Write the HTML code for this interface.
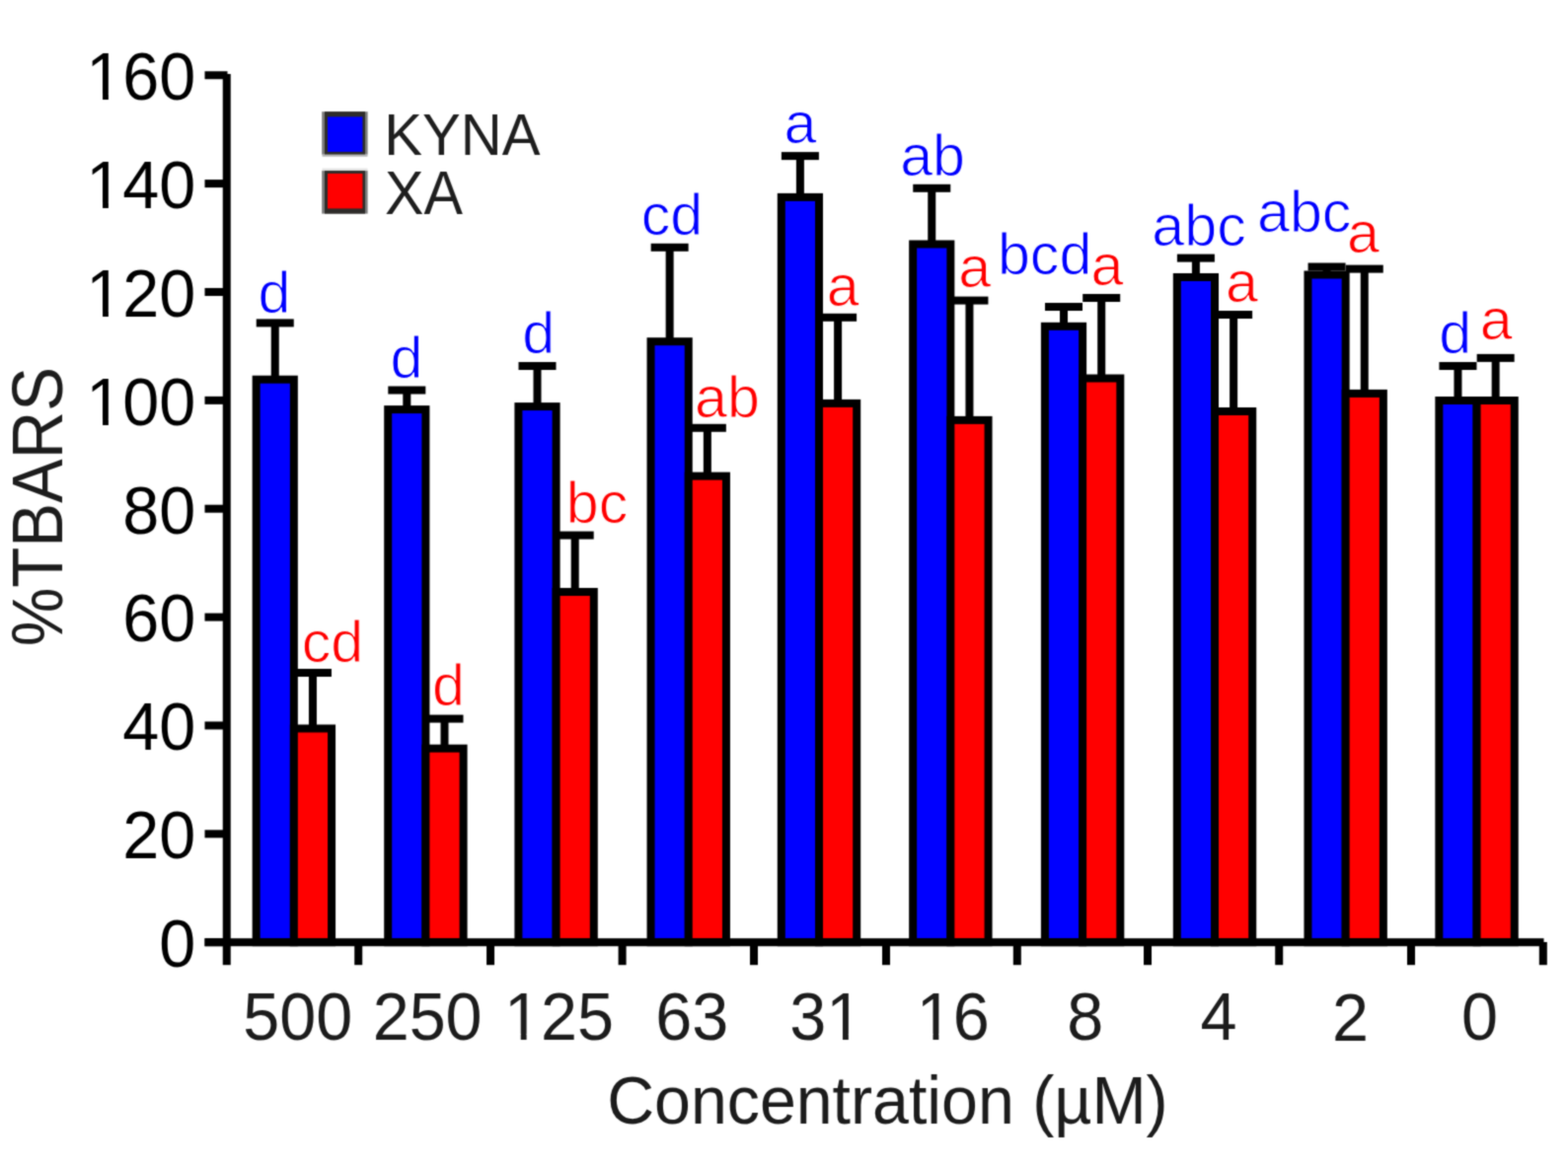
<!DOCTYPE html>
<html><head><meta charset="utf-8"><title>%TBARS vs concentration</title>
<style>
html,body{margin:0;padding:0;background:#fff;}
svg{display:block;}
text{font-family:"Liberation Sans",Arial,Helvetica,sans-serif;}
</style></head><body>
<svg width="1589" height="1183" viewBox="0 0 1589 1183">
<defs><filter id="soft" x="0" y="0" width="100%" height="100%" color-interpolation-filters="sRGB"><feConvolveMatrix order="3" kernelMatrix="0.04 0.11 0.04 0.11 0.40 0.11 0.04 0.11 0.04" edgeMode="duplicate"/></filter></defs>
<g filter="url(#soft)">
<rect width="1589" height="1183" fill="#fff"/>
<g id="bars" stroke="#000" stroke-width="8" stroke-linejoin="miter">
<rect x="259.65" y="384.70" width="38.20" height="570.50" fill="#0000ff"/><rect x="297.85" y="738.50" width="38.20" height="216.70" fill="#ff0000"/>
<rect x="393.20" y="415.10" width="38.20" height="540.10" fill="#0000ff"/><rect x="431.40" y="758.70" width="38.20" height="196.50" fill="#ff0000"/>
<rect x="525.40" y="412.10" width="38.20" height="543.10" fill="#0000ff"/><rect x="563.60" y="600.00" width="38.20" height="355.20" fill="#ff0000"/>
<rect x="659.55" y="346.20" width="38.20" height="609.00" fill="#0000ff"/><rect x="697.75" y="482.60" width="38.20" height="472.60" fill="#ff0000"/>
<rect x="791.80" y="199.90" width="38.20" height="755.30" fill="#0000ff"/><rect x="830.00" y="408.90" width="38.20" height="546.30" fill="#ff0000"/>
<rect x="925.15" y="247.50" width="38.20" height="707.70" fill="#0000ff"/><rect x="963.35" y="425.90" width="38.20" height="529.30" fill="#ff0000"/>
<rect x="1058.90" y="330.80" width="38.20" height="624.40" fill="#0000ff"/><rect x="1097.10" y="383.50" width="38.20" height="571.70" fill="#ff0000"/>
<rect x="1192.80" y="281.00" width="38.20" height="674.20" fill="#0000ff"/><rect x="1231.00" y="417.00" width="38.20" height="538.20" fill="#ff0000"/>
<rect x="1325.45" y="278.50" width="38.20" height="676.70" fill="#0000ff"/><rect x="1363.65" y="398.90" width="38.20" height="556.30" fill="#ff0000"/>
<rect x="1458.35" y="406.00" width="38.20" height="549.20" fill="#0000ff"/><rect x="1496.55" y="406.00" width="38.20" height="549.20" fill="#ff0000"/>
</g>
<g id="err" fill="#000">
<rect x="274.75" y="327.40" width="8" height="55.30"/><rect x="259.75" y="323.40" width="38" height="8"/><rect x="312.95" y="682.00" width="8" height="54.50"/><rect x="297.95" y="678.00" width="38" height="8"/>
<rect x="408.30" y="395.50" width="8" height="17.60"/><rect x="393.30" y="391.50" width="38" height="8"/><rect x="446.50" y="728.60" width="8" height="28.10"/><rect x="431.50" y="724.60" width="38" height="8"/>
<rect x="540.50" y="371.00" width="8" height="39.10"/><rect x="525.50" y="367.00" width="38" height="8"/><rect x="578.70" y="542.60" width="8" height="55.40"/><rect x="563.70" y="538.60" width="38" height="8"/>
<rect x="674.65" y="250.80" width="8" height="93.40"/><rect x="659.65" y="246.80" width="38" height="8"/><rect x="712.85" y="433.80" width="8" height="46.80"/><rect x="697.85" y="429.80" width="38" height="8"/>
<rect x="806.90" y="158.10" width="8" height="39.80"/><rect x="791.90" y="154.10" width="38" height="8"/><rect x="845.10" y="321.80" width="8" height="85.10"/><rect x="830.10" y="317.80" width="38" height="8"/>
<rect x="940.25" y="190.80" width="8" height="54.70"/><rect x="925.25" y="186.80" width="38" height="8"/><rect x="978.45" y="304.60" width="8" height="119.30"/><rect x="963.45" y="300.60" width="38" height="8"/>
<rect x="1074.00" y="311.00" width="8" height="17.80"/><rect x="1059.00" y="307.00" width="38" height="8"/><rect x="1112.20" y="302.00" width="8" height="79.50"/><rect x="1097.20" y="298.00" width="38" height="8"/>
<rect x="1207.90" y="261.60" width="8" height="17.40"/><rect x="1192.90" y="257.60" width="38" height="8"/><rect x="1246.10" y="319.00" width="8" height="96.00"/><rect x="1231.10" y="315.00" width="38" height="8"/>
<rect x="1340.55" y="270.50" width="8" height="6.00"/><rect x="1325.55" y="266.50" width="38" height="8"/><rect x="1378.75" y="272.60" width="8" height="124.30"/><rect x="1363.75" y="268.60" width="38" height="8"/>
<rect x="1473.45" y="371.00" width="8" height="33.00"/><rect x="1458.45" y="367.00" width="38" height="8"/><rect x="1511.65" y="362.90" width="8" height="41.10"/><rect x="1496.65" y="358.90" width="38" height="8"/>
</g>
<g id="axes" fill="#000">
<rect x="225.75" y="75" width="8" height="903.2"/>
<rect x="207.5" y="951.20" width="23" height="8"/><rect x="207.5" y="841.33" width="23" height="8"/><rect x="207.5" y="731.46" width="23" height="8"/><rect x="207.5" y="621.59" width="23" height="8"/><rect x="207.5" y="511.72" width="23" height="8"/><rect x="207.5" y="401.85" width="23" height="8"/><rect x="207.5" y="291.98" width="23" height="8"/><rect x="207.5" y="182.11" width="23" height="8"/><rect x="207.5" y="72.24" width="23" height="8"/>
<rect x="207.5" y="951.20" width="1357" height="8"/>
<rect x="359.20" y="955" width="8" height="23.2"/><rect x="493.05" y="955" width="8" height="23.2"/><rect x="626.60" y="955" width="8" height="23.2"/><rect x="760.00" y="955" width="8" height="23.2"/><rect x="894.00" y="955" width="8" height="23.2"/><rect x="1026.80" y="955" width="8" height="23.2"/><rect x="1159.00" y="955" width="8" height="23.2"/><rect x="1292.20" y="955" width="8" height="23.2"/><rect x="1426.00" y="955" width="8" height="23.2"/><rect x="1559.80" y="955" width="8" height="23.2"/>
</g>
<g id="legend">
<rect x="326.2" y="113.20" width="46.4" height="43.5" fill="#7a7a7a"/><rect x="329" y="113.20" width="41" height="43.5" fill="#2e2c2a"/><rect x="332" y="118.40" width="35.4" height="35.5" fill="#0000ff"/>
<rect x="326.2" y="173.10" width="46.4" height="43.5" fill="#7a7a7a"/><rect x="329" y="173.10" width="41" height="43.5" fill="#2e2c2a"/><rect x="332" y="175.90" width="35.4" height="35.5" fill="#ff0000"/>
<rect x="326.5" y="156.7" width="46" height="2.1" fill="#b8b8b8"/><rect x="326.5" y="170.6" width="46" height="2.4" fill="#e4e4e4"/>
</g>
<g id="texts">
<text id="y0" transform="translate(161.30 980.07) scale(1.0000 1.0400)" font-size="66.5" fill="#000">0</text>
<text id="y20" transform="translate(124.30 870.20) scale(1.0000 1.0400)" font-size="66.5" fill="#000">20</text>
<text id="y40" transform="translate(124.30 760.33) scale(1.0000 1.0400)" font-size="66.5" fill="#000">40</text>
<text id="y60" transform="translate(124.30 650.46) scale(1.0000 1.0400)" font-size="66.5" fill="#000">60</text>
<text id="y80" transform="translate(124.30 540.59) scale(1.0000 1.0400)" font-size="66.5" fill="#000">80</text>
<text id="y100" transform="translate(87.30 430.72) scale(1.0000 1.0400)" font-size="66.5" fill="#000">100</text><g transform="translate(87.30 430.72) scale(1.0000 1.0400)" fill="#fff"><rect x="3.90" y="-6.01" width="12.83" height="7.21"/><rect x="22.60" y="-6.01" width="12.31" height="7.21"/></g>
<text id="y120" transform="translate(87.30 320.85) scale(1.0000 1.0400)" font-size="66.5" fill="#000">120</text><g transform="translate(87.30 320.85) scale(1.0000 1.0400)" fill="#fff"><rect x="3.90" y="-6.01" width="12.83" height="7.21"/><rect x="22.60" y="-6.01" width="12.31" height="7.21"/></g>
<text id="y140" transform="translate(87.30 210.98) scale(1.0000 1.0400)" font-size="66.5" fill="#000">140</text><g transform="translate(87.30 210.98) scale(1.0000 1.0400)" fill="#fff"><rect x="3.90" y="-6.01" width="12.83" height="7.21"/><rect x="22.60" y="-6.01" width="12.31" height="7.21"/></g>
<text id="y160" transform="translate(87.30 101.11) scale(1.0000 1.0400)" font-size="66.5" fill="#000">160</text><g transform="translate(87.30 101.11) scale(1.0000 1.0400)" fill="#fff"><rect x="3.90" y="-6.01" width="12.83" height="7.21"/><rect x="22.60" y="-6.01" width="12.31" height="7.21"/></g>
<text id="x500" transform="translate(246.35 1054.22) scale(1.0000 1.0400)" font-size="66.5" fill="#1c1c1c">500</text>
<text id="x250" transform="translate(377.65 1054.22) scale(1.0000 1.0400)" font-size="66.5" fill="#1c1c1c">250</text>
<text id="x125" transform="translate(511.00 1054.22) scale(1.0000 1.0400)" font-size="66.5" fill="#1c1c1c">125</text><g transform="translate(511.00 1054.22) scale(1.0000 1.0400)" fill="#fff"><rect x="3.90" y="-6.01" width="12.83" height="7.21"/><rect x="22.60" y="-6.01" width="12.31" height="7.21"/></g>
<text id="x63" transform="translate(664.30 1054.22) scale(1.0000 1.0400)" font-size="66.5" fill="#1c1c1c">63</text>
<text id="x31" transform="translate(800.25 1054.22) scale(1.0000 1.0400)" font-size="66.5" fill="#1c1c1c">31</text><g transform="translate(800.25 1054.22) scale(1.0000 1.0400)" fill="#fff"><rect x="40.88" y="-6.01" width="12.83" height="7.21"/><rect x="59.58" y="-6.01" width="12.31" height="7.21"/></g>
<text id="x16" transform="translate(928.75 1054.22) scale(1.0000 1.0400)" font-size="66.5" fill="#1c1c1c">16</text><g transform="translate(928.75 1054.22) scale(1.0000 1.0400)" fill="#fff"><rect x="3.90" y="-6.01" width="12.83" height="7.21"/><rect x="22.60" y="-6.01" width="12.31" height="7.21"/></g>
<text id="x8" transform="translate(1081.15 1054.22) scale(1.0000 1.0400)" font-size="66.5" fill="#1c1c1c">8</text>
<text id="x4" transform="translate(1216.55 1054.22) scale(1.0000 1.0400)" font-size="66.5" fill="#1c1c1c">4</text>
<text id="x2" transform="translate(1350.00 1054.74) scale(1.0000 1.0400)" font-size="66.5" fill="#1c1c1c">2</text>
<text id="x0" transform="translate(1481.00 1054.22) scale(1.0000 1.0400)" font-size="66.5" fill="#1c1c1c">0</text>
<text id="xtitle" transform="translate(615.19 1138.90) scale(1.0041 1.0500)" font-size="66" fill="#1c1c1c">Concentration (µM)</text>
<text id="ytitle" transform="translate(63.14 655.37) rotate(-90) scale(0.9865 1.0612)" font-size="68" fill="#1c1c1c">%TBARS</text>
<text id="kyna" transform="translate(389.30 156.70) scale(1.0193 1.0275)" font-size="57" fill="#1e1e1e">KYNA</text>
<text id="xa" transform="translate(390.03 216.70) scale(0.9859 1.0634)" font-size="60" fill="#1e1e1e">XA</text>
<text id="l1b" transform="translate(261.55 316.70) scale(1.0000 1.0000)" font-size="59.2" fill="#0000ff" stroke="#fff" stroke-width="1.0">d</text>
<text id="l1r" transform="translate(305.70 671.45) scale(1.0000 1.0000)" font-size="59.2" fill="#ff0000" stroke="#fff" stroke-width="1.0">cd</text>
<text id="l2b" transform="translate(395.45 382.55) scale(1.0000 1.0000)" font-size="59.2" fill="#0000ff" stroke="#fff" stroke-width="1.0">d</text>
<text id="l2r" transform="translate(437.90 715.20) scale(1.0000 1.0000)" font-size="59.2" fill="#ff0000" stroke="#fff" stroke-width="1.0">d</text>
<text id="l3b" transform="translate(529.20 357.50) scale(1.0000 1.0000)" font-size="59.2" fill="#0000ff" stroke="#fff" stroke-width="1.0">d</text>
<text id="l3r" transform="translate(573.80 530.20) scale(1.0000 1.0000)" font-size="59.2" fill="#ff0000" stroke="#fff" stroke-width="1.0">bc</text>
<text id="l4b" transform="translate(649.65 238.15) scale(1.0000 1.0000)" font-size="59.2" fill="#0000ff" stroke="#fff" stroke-width="1.0">cd</text>
<text id="l4r" transform="translate(704.00 422.85) scale(1.0000 1.0000)" font-size="59.2" fill="#ff0000" stroke="#fff" stroke-width="1.0">ab</text>
<text id="l5b" transform="translate(794.55 144.70) scale(1.0000 1.0000)" font-size="59.2" fill="#0000ff" stroke="#fff" stroke-width="1.0">a</text>
<text id="l5r" transform="translate(837.75 309.85) scale(1.0000 1.0000)" font-size="59.2" fill="#ff0000" stroke="#fff" stroke-width="1.0">a</text>
<text id="l6b" transform="translate(912.15 178.20) scale(1.0000 1.0000)" font-size="59.2" fill="#0000ff" stroke="#fff" stroke-width="1.0">ab</text>
<text id="l6r" transform="translate(971.30 290.50) scale(1.0000 1.0000)" font-size="59.2" fill="#ff0000" stroke="#fff" stroke-width="1.0">a</text>
<text id="l7b" transform="translate(1010.90 277.90) scale(1.0000 1.0000)" font-size="59.2" fill="#0000ff" stroke="#fff" stroke-width="1.0">bcd</text>
<text id="l7r" transform="translate(1105.60 288.85) scale(1.0000 1.0000)" font-size="59.2" fill="#ff0000" stroke="#fff" stroke-width="1.0">a</text>
<text id="l8b" transform="translate(1167.30 248.85) scale(1.0000 1.0000)" font-size="59.2" fill="#0000ff" stroke="#fff" stroke-width="1.0">abc</text>
<text id="l8r" transform="translate(1242.10 305.50) scale(1.0000 1.0000)" font-size="59.2" fill="#ff0000" stroke="#fff" stroke-width="1.0">a</text>
<text id="l9b" transform="translate(1274.00 234.80) scale(1.0000 1.0000)" font-size="59.2" fill="#0000ff" stroke="#fff" stroke-width="1.0">abc</text>
<text id="l9r" transform="translate(1365.05 256.30) scale(1.0000 1.0000)" font-size="59.2" fill="#ff0000" stroke="#fff" stroke-width="1.0">a</text>
<text id="l10b" transform="translate(1458.25 357.85) scale(1.0000 1.0000)" font-size="59.2" fill="#0000ff" stroke="#fff" stroke-width="1.0">d</text>
<text id="l10r" transform="translate(1499.75 344.25) scale(1.0000 1.0000)" font-size="59.2" fill="#ff0000" stroke="#fff" stroke-width="1.0">a</text>
</g>
</g>
</svg>
</body></html>
